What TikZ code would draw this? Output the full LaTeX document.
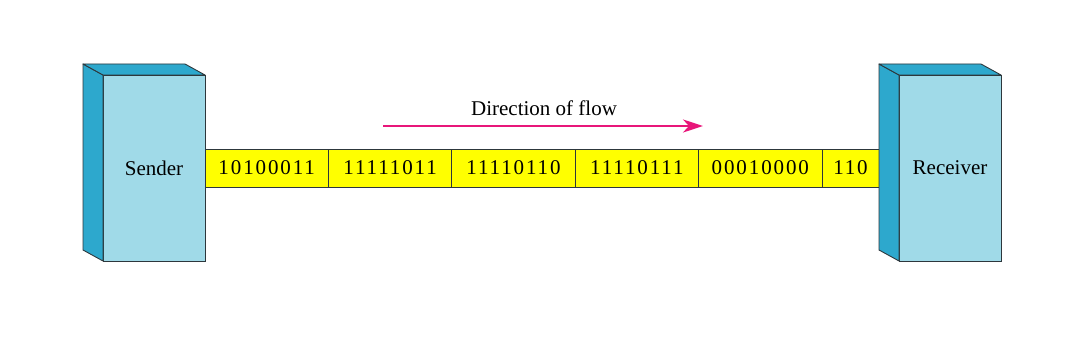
\documentclass[tikz,border=0pt]{standalone}
\usepackage{fontspec}
\setmainfont{Liberation Serif}
\usepackage{tikz}
\usetikzlibrary{arrows.meta,positioning}
\definecolor{boxfront}{RGB}{160,218,232}
\definecolor{boxside}{RGB}{45,168,205}
\definecolor{flowpink}{RGB}{232,22,122}
\definecolor{edgegray}{RGB}{45,55,60}
\definecolor{bityellow}{RGB}{255,255,0}

\begin{document}
\begin{tikzpicture}[
    x=1pt, y=1pt,
    node distance=0pt,
    line width=0.9pt,
    station/.style={draw=edgegray, fill=boxfront, minimum width=102pt, minimum height=186pt, inner sep=0pt, outer sep=0pt, font=\fontsize{21}{25}\selectfont},
    depth/.style={draw=edgegray, fill=boxside, line join=round},
    cell/.style={draw=edgegray, fill=bityellow, minimum width=123.4pt, minimum height=38pt, inner sep=0pt, outer sep=0pt, font=\fontsize{21}{25}\selectfont\addfontfeature{LetterSpace=9}},
    arr/.style={-{Stealth[length=20pt, width=13pt, inset=6pt]}, line width=2.5pt, flowpink}
]
\useasboundingbox (0,0) rectangle (1083,354);

% sender and the bit stream
\node[station] (sender) at (154,186) {Sender};
\node[cell, anchor=west] (c1) at (sender.east) {10100011};
\node[cell, right=of c1] (c2) {11111011};
\node[cell, right=of c2] (c3) {11110110};
\node[cell, right=of c3] (c4) {11110111};
\node[cell, right=of c4] (c5) {00010000};
\node[cell, right=of c5, minimum width=57pt] (c6) {110};
\node[station, right=20pt of c6] (receiver) {Receiver};

% box depth
\foreach \stn in {sender, receiver} {
  \draw[depth] (\stn.north west) -- ++(-20,11) -- ++(0,-186) -- (\stn.south west) -- cycle;
  \draw[depth] (\stn.north west) -- ++(-20,11) -- ++(102,0) -- (\stn.north east) -- cycle;
}

% flow direction
\node[font=\fontsize{21}{25}\selectfont] (flowlabel) at (544,246) {Direction of flow};
\coordinate (flowstart) at (383,228);
\coordinate (flowend) at (703,228);
\draw[arr] (flowstart) -- (flowend);
\end{tikzpicture}
\end{document}
